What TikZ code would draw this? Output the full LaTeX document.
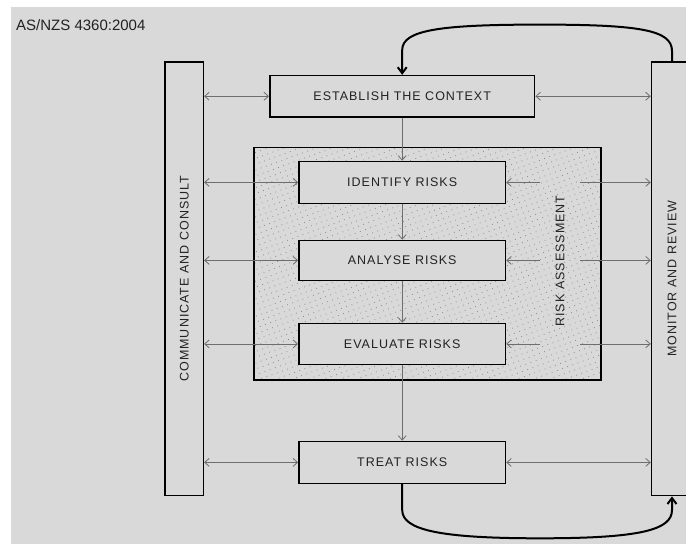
\documentclass[tikz,border=0pt]{standalone}
\usepackage{fontspec}
\setmainfont{Liberation Sans}
\newfontfamily\capsfont[LetterSpace=8]{Liberation Sans}
\usetikzlibrary{arrows.meta,patterns.meta}
\definecolor{bggray}{HTML}{D9D9D9}
\definecolor{txtgray}{HTML}{222222}
\definecolor{arrgray}{HTML}{6E6E6E}
\definecolor{dotgray}{HTML}{8C8C8C}

\begin{document}
\begin{tikzpicture}[x=1pt,y=-1pt,
  >={Straight Barb[length=4.5pt,width=8pt]},
  stage/.style={draw,line width=1.5pt,fill=bggray,text=txtgray,inner sep=0pt,
    font={\capsfont\fontsize{12.5}{15}\selectfont}},
  link/.style={draw,arrgray,line width=0.8pt},
  feedback/.style={draw,line width=2pt,-{Straight Barb[length=6pt,width=9pt]}}]
\useasboundingbox (0,0) rectangle (686,544);
\fill[white] (0,0) rectangle (686,544);
\fill[bggray] (11,7) rectangle (686,544);

\node[anchor=base west,inner sep=0pt,text=txtgray,font=\fontsize{15}{18}\selectfont] (0) at (16,30) {AS/NZS 4360:2004};

% risk assessment area
\node[draw,line width=1.5pt,minimum width=347pt,minimum height=232.6pt,preaction={fill=bggray},
  pattern={Dots[distance=5.5pt,radius=0.55pt,angle=20]},pattern color=dotgray] (8) at (427.5,263.7) {};
\node[rotate=90,text=txtgray,font={\capsfont\fontsize{12.5}{15}\selectfont}] (9) at (560,261) {RISK ASSESSMENT};

\node[stage,rotate=90,minimum width=433.7pt,minimum height=38.3pt] (1) at (184.2,278.75) {COMMUNICATE AND CONSULT};
\node[stage,minimum width=264.9pt,minimum height=41.3pt] (2) at (402.2,96.25) {ESTABLISH THE CONTEXT};
\node[stage,minimum width=206.6pt,minimum height=42pt] (3) at (402.2,182.4) {IDENTIFY RISKS};
\node[stage,minimum width=206.6pt,minimum height=40pt] (4) at (402.2,260.4) {ANALYSE RISKS};
\node[stage,minimum width=206.6pt,minimum height=41pt] (5) at (402.2,343.9) {EVALUATE RISKS};
\node[stage,minimum width=206.6pt,minimum height=42pt] (6) at (402.2,462.4) {TREAT RISKS};
\node[stage,rotate=90,minimum width=433.7pt,minimum height=41pt] (7) at (672,278.75) {MONITOR AND REVIEW};

\coordinate (10) at (540,0);
\coordinate (11) at (580,0);

\path[link,->] (2) -- (3);
\path[link,->] (3) -- (4);
\path[link,->] (4) -- (5);
\path[link,->] (5) -- (6);

\path[link,<->] (2.west -| 1.south) -- (2.west);
\path[link,<->] (3.west -| 1.south) -- (3.west);
\path[link,<->] (4.west -| 1.south) -- (4.west);
\path[link,<->] (5.west -| 1.south) -- (5.west);
\path[link,<->] (6.west -| 1.south) -- (6.west);

\path[link,<->] (2.east) -- (2.east -| 7.north);
\path[link,<-] (3.east) -- (3.east -| 10);
\path[link,->] (3.east -| 11) -- (3.east -| 7.north);
\path[link,<-] (4.east) -- (4.east -| 10);
\path[link,->] (4.east -| 11) -- (4.east -| 7.north);
\path[link,<-] (5.east) -- (5.east -| 10);
\path[link,->] (5.east -| 11) -- (5.east -| 7.north);
\path[link,<->] (6.east) -- (6.east -| 7.north);

\path[feedback] (7.east) -- (672,51) .. controls (672,30) and (640,24.6) .. (540,24.6)
  .. controls (440,24.6) and (402.2,30) .. (402.2,50) -- (2.north);
\path[feedback] (6.south) -- (402.2,510) .. controls (402.2,530) and (440,538.3) .. (540,538.3)
  .. controls (640,538.3) and (672,530) .. (672,510) -- (7.west);
\end{tikzpicture}
\end{document}
